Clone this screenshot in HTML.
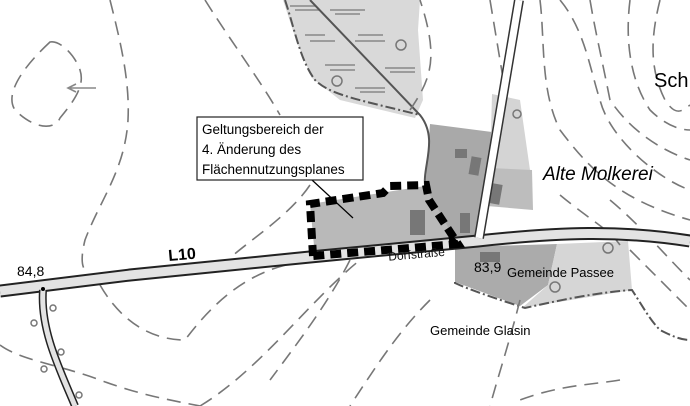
<!DOCTYPE html>
<html><head><meta charset="utf-8"><style>
html,body{margin:0;padding:0;background:#fff}
svg{display:block}
text{font-family:"Liberation Sans",sans-serif}
</style></head><body>
<svg width="690" height="406" viewBox="0 0 690 406" xmlns="http://www.w3.org/2000/svg">
<rect width="690" height="406" fill="#fff"/>
<!-- gray areas -->
<polygon points="283,0 420,0 418,30 423,100 415,118 340,100 312,78 296,40" fill="#d9d9d9"/>
<polygon points="430,124 492,132 478,238 456,245 430,240 425,190" fill="#a9a9a9"/>
<polygon points="492,94 520,100 530,170 490,170" fill="#d4d4d4"/>
<polygon points="490,168 532,170 533,210 487,206" fill="#bdbdbd"/>
<polygon points="310,204 425,186 458,245 315,256" fill="#b9b9b9"/>
<polygon points="455,247 557,244 548,285 520,306 455,282" fill="#ababab"/>
<polygon points="557,244 628,241 632,290 522,308 548,285" fill="#d6d6d6"/>
<!-- buildings -->
<g fill="#777">
<rect x="455" y="149" width="12" height="9"/>
<rect x="470" y="157" width="10" height="18" transform="rotate(10 475 166)"/>
<rect x="491" y="184" width="10" height="20" transform="rotate(10 496 194)"/>
<rect x="410" y="210" width="15" height="25"/>
<rect x="460" y="213" width="10" height="20"/>
<rect x="480" y="252" width="20" height="10"/>
</g>
<!-- hatches in upper area -->
<g stroke="#888" stroke-width="1.5">
<path d="M290,6h25M295,10h25M330,10h35M335,14h25M305,35h20M310,41h25M358,35h25M355,41h30M325,65h30M330,70h25M385,68h30M390,72h25M355,88h30M360,92h25"/>
</g>
<g fill="none" stroke="#777" stroke-width="1.5">
<circle cx="401" cy="45" r="5"/><circle cx="337" cy="81" r="5"/>
<circle cx="517" cy="114" r="4"/><circle cx="608" cy="248" r="5"/><circle cx="555" cy="287" r="5"/>
<circle cx="53" cy="308" r="3"/><circle cx="34" cy="323" r="3"/><circle cx="61" cy="352" r="3"/><circle cx="44" cy="369" r="3"/><circle cx="79" cy="395" r="3"/>
</g>
<!-- dash-dot boundaries -->
<g fill="none" stroke="#555" stroke-width="2" stroke-dasharray="10,3,2,3">
<path d="M285,0 C295,30 300,60 315,80 C330,95 360,100 420,115"/>
<path d="M455,282 L455,283 C470,290 500,300 525,308 C560,300 600,292 632,290 C645,310 650,320 660,330 C670,335 680,340 690,340"/>
</g>
<!-- stream line -->
<path d="M310,0 L420,115 C440,140 420,170 426,190" fill="none" stroke="#555" stroke-width="2"/>
<!-- contours -->
<g fill="none" stroke="#777" stroke-width="1.6" stroke-dasharray="14,8">
<path d="M50,42 C20,70 5,95 15,110 C35,130 55,130 60,118 C75,100 85,85 80,70 C75,55 60,40 50,42Z"/>
<path d="M110,0 C120,40 130,80 128,120 C125,170 100,200 85,240 C80,260 82,270 88,272"/>
<path d="M205,0 C230,40 260,80 280,115"/>
<path d="M310,185 C290,215 250,240 230,258"/>
<path d="M100,285 C120,320 150,340 185,340 C215,300 250,270 300,262"/>
<path d="M0,345 C20,360 60,365 100,380 C140,395 170,400 200,406"/>
<path d="M200,406 C260,370 310,300 360,260"/>
<path d="M410,110 C430,80 440,60 420,0"/>
<path d="M350,260 C330,300 300,340 270,380"/>
<path d="M430,300 C400,330 380,360 350,406"/>
<path d="M520,300 C510,340 500,370 490,406"/>
<path d="M540,0 C545,40 540,90 560,130 C590,170 620,200 690,220"/>
<path d="M560,0 C585,30 590,70 600,100 C610,140 660,180 690,190"/>
<path d="M590,0 C595,30 600,50 610,100 C630,130 660,150 690,160"/>
<path d="M630,0 C625,40 630,80 650,110 C665,125 680,130 690,130"/>
<path d="M660,0 C650,40 650,70 665,100 C675,115 680,113 690,105"/>
<path d="M560,195 C590,220 610,230 620,245"/>
<path d="M610,200 C640,225 660,250 690,280"/>
<path d="M630,250 C650,270 670,290 690,310"/>
<path d="M490,0 C495,30 500,60 505,90"/>
<path d="M620,380 C590,385 560,385 520,400"/>
</g>
<!-- arrow -->
<path d="M96,88 H70 M76,84 L68,88 L76,92" fill="none" stroke="#888" stroke-width="1.6"/>
<!-- roads -->
<path d="M0,291 L130,275 L310,257 L478,241 C560,232 620,230 690,241" fill="none" stroke="#222" stroke-width="13"/>
<path d="M0,291 L130,275 L310,257 L478,241 C560,232 620,230 690,241" fill="none" stroke="#e3e3e3" stroke-width="9"/>
<path d="M43,290 C40,330 60,370 75,406" fill="none" stroke="#222" stroke-width="8"/>
<path d="M43,290 C40,330 60,370 75,406" fill="none" stroke="#e3e3e3" stroke-width="5"/>
<path d="M519,0 L479,238" fill="none" stroke="#333" stroke-width="10"/>
<path d="M519,0 L479,238" fill="none" stroke="#fff" stroke-width="7"/>
<circle cx="43" cy="289" r="2" fill="#000"/>
<!-- Geltungsbereich boundary -->
<path d="M313,256 L310,204 L383,193 L390,186 L426,185 L429,200 L458,244 L313,256" fill="none" stroke="#000" stroke-width="8" stroke-dasharray="11,6"/>
<path d="M448,232 L462,245 L450,248Z" fill="#000"/>
<!-- label box -->
<line x1="312" y1="180" x2="353" y2="218" stroke="#000" stroke-width="1.2"/>
<rect x="197" y="117" width="166" height="63" fill="#fff" stroke="#222" stroke-width="1.2"/>
<text x="202" y="134" font-size="13.5">Geltungsbereich der</text>
<text x="202" y="154" font-size="13.5">4. Änderung des</text>
<text x="202" y="174" font-size="13.5">Flächennutzungsplanes</text>
<!-- texts -->
<text x="168" y="260" font-size="16" font-weight="bold" transform="rotate(-5 180 252)" font-family="Liberation Sans Narrow, Liberation Sans, sans-serif">L10</text>
<text x="17" y="276" font-size="14">84,8</text>
<text x="474" y="272" font-size="14">83,9</text>
<text x="507" y="277" font-size="13">Gemeinde Passee</text>
<text x="430" y="335" font-size="13">Gemeinde Glasin</text>
<text x="543" y="180" font-size="19" font-style="italic">Alte Molkerei</text>
<text x="654" y="87" font-size="20">Sch</text>
<text x="388" y="258" font-size="12" fill="#111" transform="rotate(-5 420 252)">Dorfstraße</text>
</svg>
</body></html>
